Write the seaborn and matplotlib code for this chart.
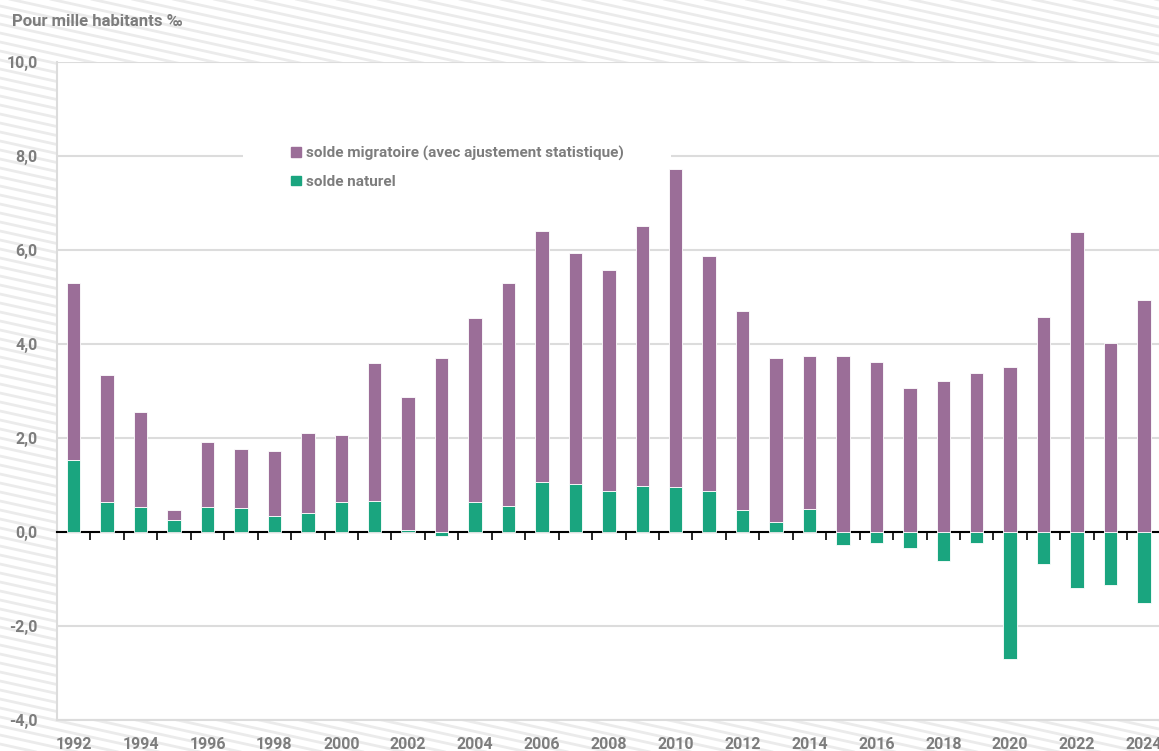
import numpy as np
import pandas as pd
import matplotlib
matplotlib.use("Agg")
import matplotlib.pyplot as plt
import seaborn as sns
from matplotlib.patches import Patch, Rectangle
from matplotlib.ticker import FuncFormatter, FixedLocator

## Donnees (pour mille habitants)
annees = list(range(1992, 2025))
solde_naturel = [1.54, 0.63, 0.54, 0.26, 0.54, 0.52, 0.35, 0.41, 0.64, 0.67,
                 0.04, -0.08, 0.63, 0.55, 1.06, 1.03, 0.88, 0.98, 0.96, 0.87,
                 0.46, 0.21, 0.50, -0.28, -0.23, -0.33, -0.62, -0.24, -2.71, -0.68,
                 -1.20, -1.13, -1.50]
solde_migratoire = [3.76, 2.70, 2.01, 0.21, 1.37, 1.25, 1.37, 1.70, 1.43, 2.93,
                    2.83, 3.70, 3.92, 4.75, 5.34, 4.91, 4.69, 5.53, 6.76, 5.00,
                    4.24, 3.50, 3.24, 3.74, 3.62, 3.06, 3.21, 3.38, 3.51, 4.57,
                    6.38, 4.02, 4.93]
label_migr = "solde migratoire (avec ajustement statistique)"
label_nat = "solde naturel"

violet = "#9b6e98"
vert = "#1aa57f"
gris = "#7d7d7d"

# pas de police etroite installee : Roboto gras
police = ["Roboto", "DejaVu Sans"]
taille = 11

sns.set_style("white")
plt.rcParams["font.family"] = police
plt.rcParams["font.weight"] = "bold"

df = pd.DataFrame({"annee": [str(a) for a in annees],
                   "naturel": solde_naturel,
                   "migratoire": solde_migratoire})
# le solde migratoire s'empile sur le solde naturel quand il est positif
df["base"] = df["naturel"].clip(lower=0)

fig = plt.figure(figsize=(11.59, 7.51), dpi=100)

# fond hachure
bg = fig.add_axes([0, 0, 1, 1], zorder=0)
bg.set_xlim(0, 1159)
bg.set_ylim(751, 0)
bg.axis("off")
for c in np.arange(-300, 760, 9):
    bg.plot([0, 1159], [c, c + 0.22 * 1159], color="#ebebeb", lw=2)

ax = fig.add_axes([57 / 1159, 31 / 751, 1102 / 1159, 658 / 751], zorder=1)
ax.set_facecolor("white")

sns.barplot(data=df, x="annee", y="naturel", color=vert, saturation=1,
            width=0.4, errorbar=None, linewidth=0.6, edgecolor="white",
            zorder=3, ax=ax)
sns.barplot(data=df, x="annee", y="migratoire", bottom=df["base"].values,
            color=violet, saturation=1, width=0.4, errorbar=None,
            linewidth=0.6, edgecolor="white", zorder=3, ax=ax)

# fond blanc derriere la legende
ax.add_patch(Rectangle((5.06, 7.13), 12.8, 1.4, facecolor="white",
                       edgecolor="none", zorder=2))

ax.set_xlim(-0.5, 32.45)
ax.set_ylim(-4, 10)
ax.set_yticks(np.arange(-4, 10.1, 2))
ax.yaxis.set_major_formatter(FuncFormatter(lambda v, p: f"{v:.1f}".replace(".", ",")))
ax.grid(axis="y", color="#dcdcdc", lw=1.5)
ax.grid(axis="x", visible=False)
ax.set_axisbelow(True)

ax.set_xticks(range(0, len(annees), 2))
ax.set_xticklabels([str(a) for a in annees[::2]])
ax.xaxis.set_minor_locator(FixedLocator(np.arange(0.5, len(annees) - 1, 1)))

ax.spines["right"].set_visible(False)
ax.spines["left"].set_color("#dcdcdc")
ax.spines["left"].set_linewidth(1.5)
ax.spines["bottom"].set_color("#dcdcdc")
ax.spines["bottom"].set_linewidth(1.5)
ax.spines["top"].set_position(("data", 0))
ax.spines["top"].set_color("black")
ax.spines["top"].set_linewidth(1.5)

ax.tick_params(axis="x", which="major", length=0, pad=12, labelsize=taille + 0.5,
               labelcolor=gris, top=False, bottom=True)
ax.tick_params(axis="x", which="minor", bottom=False, top=True,
               direction="in", length=6, width=1.2, color="black")
ax.tick_params(axis="y", length=0, pad=14, labelsize=taille + 0.5, labelcolor=gris)
ax.set_xlabel("")
ax.set_ylabel("")

leg = ax.legend(handles=[Patch(color=violet, label=label_migr),
                         Patch(color=vert, label=label_nat)],
                loc="upper left", bbox_to_anchor=(291 / 1159, 1 - 146 / 751),
                bbox_transform=fig.transFigure, frameon=False,
                handlelength=0.65, handleheight=0.6, handletextpad=0.3,
                labelspacing=0.9, borderpad=0, borderaxespad=0,
                prop={"weight": "bold", "size": taille},
                labelcolor=gris)

fig.text(12 / 1159, 1 - 22 / 751, "Pour mille habitants \u2030", ha="left",
         va="center", fontsize=taille + 1, color=gris, fontweight="bold")

plt.savefig("out.png", dpi=100)
